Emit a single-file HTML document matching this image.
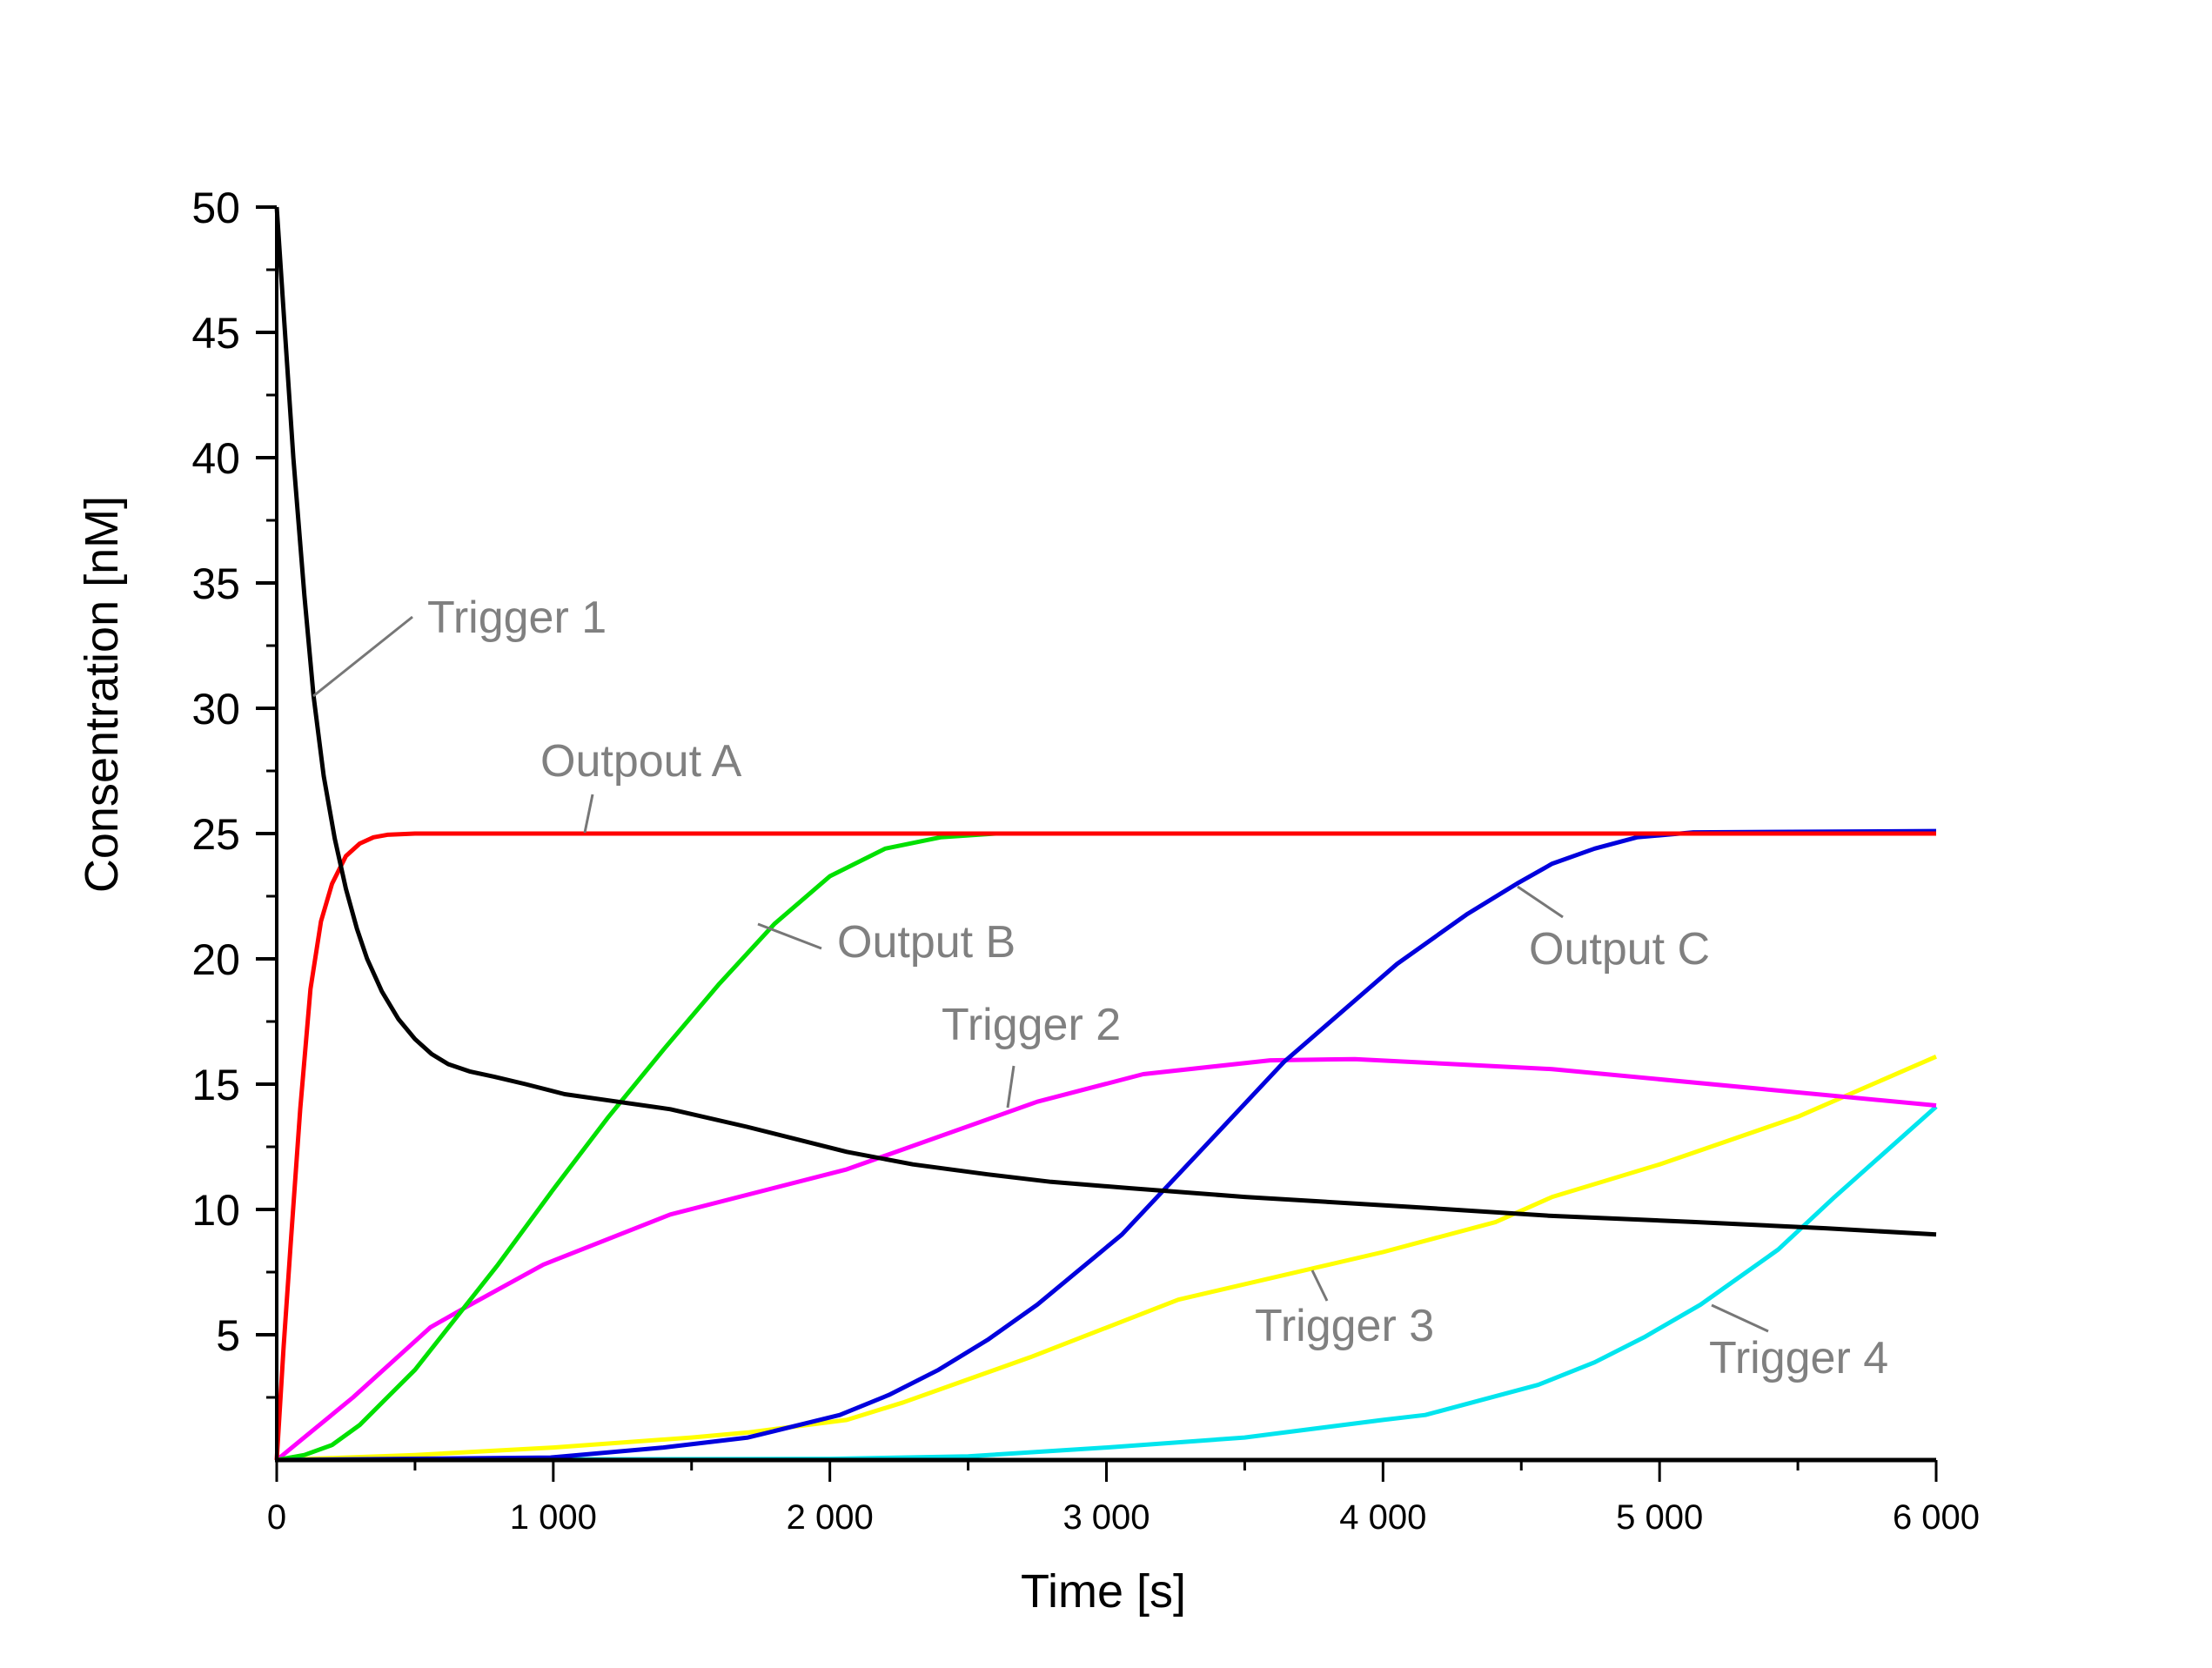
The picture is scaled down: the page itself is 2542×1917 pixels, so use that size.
<!DOCTYPE html>
<html><head><meta charset="utf-8"><style>
html,body{margin:0;padding:0;background:#fff;}
svg{display:block;}
text{font-family:"Liberation Sans",sans-serif;}
</style></head><body>
<svg id="chart" width="2542" height="1917" viewBox="0 0 2542 1917" xmlns="http://www.w3.org/2000/svg">
<g id="series"></g>
<g id="axes"></g>
<g id="labels"></g>
</svg>
<script>
const xTicks = [0,1000,2000,3000,4000,5000,6000];
const xTickLabels = ["0","1 000","2 000","3 000","4 000","5 000","6 000"];
const yTicks = [5,10,15,20,25,30,35,40,45,50];
const yTickLabels = ["5","10","15","20","25","30","35","40","45","50"];

const trigger1T = [0,30,60,100,133,170,210,250,290,327,380,440,500,560,620,700,786,900,1041,1200,1423,1700,2061,2300,2571,2800,3082,3500,4102,4600,5122,5600,6000];
const trigger1V = [50,45,40,34.5,30.5,27.3,24.8,22.8,21.2,20.0,18.7,17.6,16.8,16.2,15.8,15.5,15.3,15.0,14.6,14.35,14.0,13.3,12.3,11.8,11.4,11.1,10.85,10.5,10.1,9.75,9.5,9.25,9.0];
const outputAT = [0,25,51,85,122,160,200,250,300,350,400,500,6000];
const outputAV = [0,4.5,8.7,14,18.8,21.5,23.0,24.1,24.6,24.85,24.95,25,25];
const outputBT = [0,100,200,300,400,500,600,800,1000,1200,1400,1600,1800,2000,2200,2400,2600,6000];
const outputBV = [0,0.2,0.6,1.4,2.5,3.6,5.0,7.8,10.8,13.7,16.4,19.0,21.4,23.3,24.4,24.85,25,25];
const trigger2T = [0,276,556,684,964,1423,2061,2750,3133,3592,3898,4612,5378,6000];
const trigger2V = [0,2.5,5.3,6.1,7.8,9.8,11.6,14.3,15.4,15.95,16.0,15.6,14.8,14.15];
const outputCT = [0,990,1398,1704,2036,2214,2393,2571,2750,3056,3337,3643,4051,4306,4484,4612,4765,4918,5122,6000];
const outputCV = [0,0.1,0.5,0.9,1.8,2.6,3.6,4.8,6.2,9.0,12.3,15.9,19.8,21.8,23.0,23.8,24.4,24.85,25.05,25.1];
const trigger3T = [0,500,1000,1500,1704,2061,2265,2724,3260,4000,4408,4612,5000,5500,6000];
const trigger3V = [0,0.2,0.5,0.9,1.1,1.6,2.3,4.1,6.4,8.3,9.5,10.5,11.8,13.7,16.1];
const trigger4T = [0,2000,2500,3000,3500,4000,4153,4561,4765,4944,5148,5429,5633,6000];
const trigger4V = [0,0.05,0.15,0.5,0.9,1.6,1.8,3.0,3.9,4.9,6.2,8.4,10.5,14.1];

const NS="http://www.w3.org/2000/svg";
const X0=318, X1=2225, Y0=1678, Y1=238;
function xs(t){return X0+(X1-X0)*t/6000;}
function ys(v){return Y0+(Y1-Y0)*v/50;}
function mk(tag,attrs,parent){const e=document.createElementNS(NS,tag);for(const k in attrs)e.setAttribute(k,attrs[k]);parent.appendChild(e);return e;}
const gS=document.getElementById('series'),gA=document.getElementById('axes'),gL=document.getElementById('labels');

function drawSeries(T,V,color,name){
  let d='';
  for(let i=0;i<T.length;i++){d+=(i?'L':'M')+xs(T[i]).toFixed(1)+','+ys(V[i]).toFixed(1);}
  const p=mk('path',{d:d,fill:'none',stroke:color,'stroke-width':5,'stroke-linejoin':'round'},gS);
  
  
}
drawSeries(trigger3T,trigger3V,'#ffff00','trigger-3-line');
drawSeries(trigger4T,trigger4V,'#00e5ee','trigger-4-line');
drawSeries(trigger2T,trigger2V,'#ff00ff','trigger-2-line');
drawSeries(outputBT,outputBV,'#00e000','output-b-line');
drawSeries(outputCT,outputCV,'#0000dd','output-c-line');
drawSeries(outputAT,outputAV,'#ff0000','output-a-line');
drawSeries(trigger1T,trigger1V,'#000000','trigger-1-line');

const ya=mk('line',{x1:X0,y1:Y1,x2:X0,y2:Y0,stroke:'#000','stroke-width':4},gA);


const xa=mk('line',{x1:X0-2,y1:Y0,x2:X1,y2:Y0,stroke:'#000','stroke-width':5},gA);


for(let i=0;i<yTicks.length;i++){
  const y=ys(yTicks[i]);
  const t=mk('line',{x1:X0-24,y1:y,x2:X0,y2:y,stroke:'#000','stroke-width':4},gA);
  
  
  const m=mk('line',{x1:X0-12,y1:ys(yTicks[i]-2.5),x2:X0,y2:ys(yTicks[i]-2.5),stroke:'#000','stroke-width':3},gA);
  
  
  const l=mk('text',{x:276,y:y+18,'text-anchor':'end','font-size':50,fill:'#000'},gA);
  l.textContent=yTickLabels[i];
  
  
}
for(let i=0;i<xTicks.length;i++){
  const x=xs(xTicks[i]);
  const t=mk('line',{x1:x,y1:Y0,x2:x,y2:Y0+25,stroke:'#000','stroke-width':3},gA);
  
  
  if(i<xTicks.length-1){
    const m=mk('line',{x1:xs(xTicks[i]+500),y1:Y0,x2:xs(xTicks[i]+500),y2:Y0+12,stroke:'#000','stroke-width':3},gA);
    
    
  }
  const l=mk('text',{x:x,y:1757,'text-anchor':'middle','font-size':40,fill:'#000'},gA);
  l.textContent=xTickLabels[i];
  
  
}
const xt=mk('text',{x:1268,y:1847,'text-anchor':'middle','font-size':54,fill:'#000'},gA);
xt.textContent='Time [s]';


const yt=mk('text',{x:0,y:0,'text-anchor':'middle','font-size':54,fill:'#000',transform:'translate(135,798) rotate(-90)'},gA);
yt.textContent='Consentration [nM]';



function ann(text,x,y,lx1,ly1,lx2,ly2,name){
  const ln=mk('line',{x1:lx1,y1:ly1,x2:lx2,y2:ly2,stroke:'#777','stroke-width':3},gL);
  
  
  const t=mk('text',{x:x,y:y,'font-size':52,fill:'#808080'},gL);
  t.textContent=text;
  
  
}
ann('Trigger 1',491,727,360,800,474,709,'trigger-1');
ann('Outpout A',621,892,681,913,672,957,'output-a');
ann('Output B',962,1100,871,1062,944,1090,'output-b');
ann('Trigger 2',1082,1195,1165,1225,1158,1273,'trigger-2');
ann('Output C',1757,1108,1744,1019,1796,1054,'output-c');
ann('Trigger 3',1442,1541,1508,1460,1525,1495,'trigger-3');
ann('Trigger 4',1964,1578,1967,1500,2032,1530,'trigger-4');
</script>
</body></html>
